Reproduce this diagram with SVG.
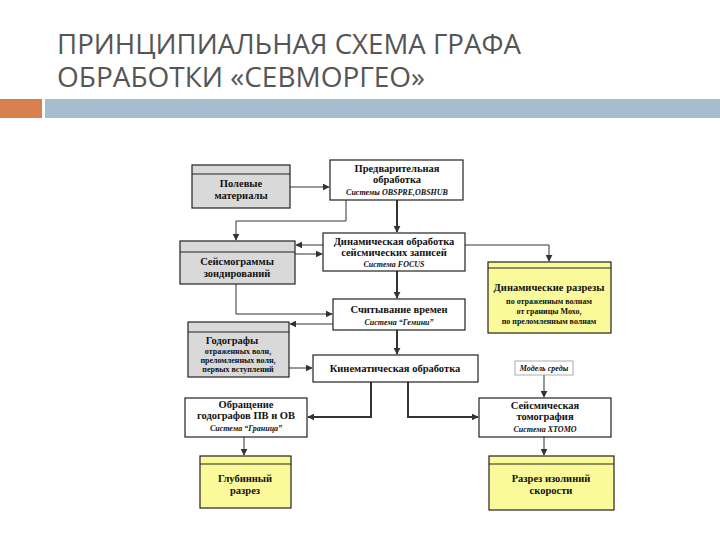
<svg xmlns="http://www.w3.org/2000/svg" width="720" height="540" viewBox="0 0 720 540">
<style>
.t{font-family:"Liberation Serif",serif;font-weight:bold;font-size:10.5px;fill:#111;text-anchor:middle}
.i{font-family:"Liberation Serif",serif;font-style:italic;font-weight:bold;font-size:8px;fill:#111;text-anchor:middle}
.s{font-family:"Liberation Serif",serif;font-weight:bold;font-size:8px;fill:#111;text-anchor:middle}
.b{fill:#fff;stroke:#222;stroke-width:1.2}
.g{fill:#d9d9d9;stroke:#222;stroke-width:1.2}
.y{fill:#fafa9a;stroke:#222;stroke-width:1.2}
.c path{fill:none;stroke:#333;stroke-width:1;marker-end:url(#a)}
.c path.k{stroke-width:2}
</style>
<defs><marker id="a" viewBox="0 0 10 10" refX="9" refY="5" markerWidth="7" markerHeight="7" markerUnits="userSpaceOnUse" orient="auto"><path d="M0,0L10,5L0,10z" fill="#333"/></marker></defs>
<rect width="720" height="540" fill="#fff"/>
<text x="57" y="54" font-family="Open Sans,sans-serif" font-size="26.5" fill="#555" textLength="464" lengthAdjust="spacingAndGlyphs">ПРИНЦИПИАЛЬНАЯ СХЕМА ГРАФА</text>
<text x="57" y="87" font-family="Open Sans,sans-serif" font-size="26.5" fill="#555" textLength="368" lengthAdjust="spacingAndGlyphs">ОБРАБОТКИ «СЕВМОРГЕО»</text>
<rect x="0" y="99" width="42" height="19" fill="#d9804f"/>
<rect x="45" y="99" width="675" height="19" fill="#a6bcd1"/>
<g class="c">
<path d="M290,187H329"/>
<path class="k" d="M397,200V232"/>
<path d="M346,200V221H236V240"/>
<path d="M323,245H296"/>
<path d="M295,254H322"/>
<path d="M465,245H549V261"/>
<path class="k" d="M397,271V298"/>
<path d="M236,284V314H332"/>
<path d="M333,324H290"/>
<path class="k" d="M397,330V354"/>
<path d="M289,368H312"/>
<path class="k" d="M371,382V417H308"/>
<path class="k" d="M408,382V417H478"/>
<path d="M544,375V397"/>
<path d="M244,437V455"/>
<path d="M544,437V455"/>
</g>
<g id="polevye"><rect class="g" x="192" y="165" width="98" height="43"/><line x1="192" y1="174" x2="290" y2="174" stroke="#222"/><text class="t" x="241" y="187">Полевые</text><text class="t" x="241" y="199">материалы</text></g>
<g id="predv"><rect class="b" x="330" y="160" width="133" height="40"/><text class="t" x="397" y="172">Предварительная</text><text class="t" x="397" y="183">обработка</text><text class="i" x="397" y="195">Системы OBSPRE,OBSHUB</text></g>
<g id="seism"><rect class="g" x="180" y="241" width="115" height="43"/><line x1="180" y1="252" x2="295" y2="252" stroke="#222"/><text class="t" x="237" y="265">Сейсмограммы</text><text class="t" x="237" y="277">зондирований</text></g>
<g id="dyn"><rect class="b" x="323" y="233" width="142" height="38"/><text class="t" x="394" y="245">Динамическая обработка</text><text class="t" x="394" y="256">сейсмических записей</text><text class="i" x="394" y="267">Система FOCUS</text></g>
<g id="dynrazr"><rect class="y" x="488" y="262" width="123" height="71"/><line x1="488" y1="268" x2="611" y2="268" stroke="#222"/><text class="t" x="549" y="291">Динамические разрезы</text><text class="s" x="549" y="304">по отраженным волнам</text><text class="s" x="549" y="314">от границы Мохо,</text><text class="s" x="549" y="324">по преломленным волнам</text></g>
<g id="schit"><rect class="b" x="333" y="299" width="132" height="31"/><text class="t" x="399" y="313">Считывание времен</text><text class="i" x="399" y="325">Система “Гемини”</text></g>
<g id="godo"><rect class="g" x="188" y="322" width="101" height="55"/><line x1="188" y1="332" x2="289" y2="332" stroke="#222"/><text class="t" x="232" y="344">Годографы</text><text class="s" x="238" y="354">отраженных волн,</text><text class="s" x="238" y="363">преломленных волн,</text><text class="s" x="238" y="372">первых вступлений</text></g>
<g id="kin"><rect class="b" x="313" y="355" width="165" height="27"/><text class="t" x="395" y="372">Кинематическая обработка</text></g>
<g id="model"><rect x="515" y="361" width="58" height="14" fill="#fff" stroke="#999" stroke-width="0.8"/><text class="i" x="544" y="371" font-weight="normal">Модель среды</text></g>
<g id="obr"><rect class="b" x="185" y="398" width="122" height="39"/><text class="t" x="246" y="408">Обращение</text><text class="t" x="246" y="419">годографов ПВ и ОВ</text><text class="i" x="246" y="431">Система “Граница”</text></g>
<g id="tomo"><rect class="b" x="479" y="398" width="132" height="39"/><text class="t" x="545" y="409">Сейсмическая</text><text class="t" x="545" y="420">томография</text><text class="i" x="545" y="432">Система XTOMO</text></g>
<g id="glub"><rect class="y" x="200" y="456" width="91" height="52"/><line x1="200" y1="464" x2="291" y2="464" stroke="#222"/><text class="t" x="245" y="482">Глубинный</text><text class="t" x="245" y="494">разрез</text></g>
<g id="izol"><rect class="y" x="489" y="456" width="125" height="54"/><line x1="489" y1="464" x2="614" y2="464" stroke="#222"/><text class="t" x="551" y="482">Разрез изолиний</text><text class="t" x="551" y="494">скорости</text></g>
</svg>
